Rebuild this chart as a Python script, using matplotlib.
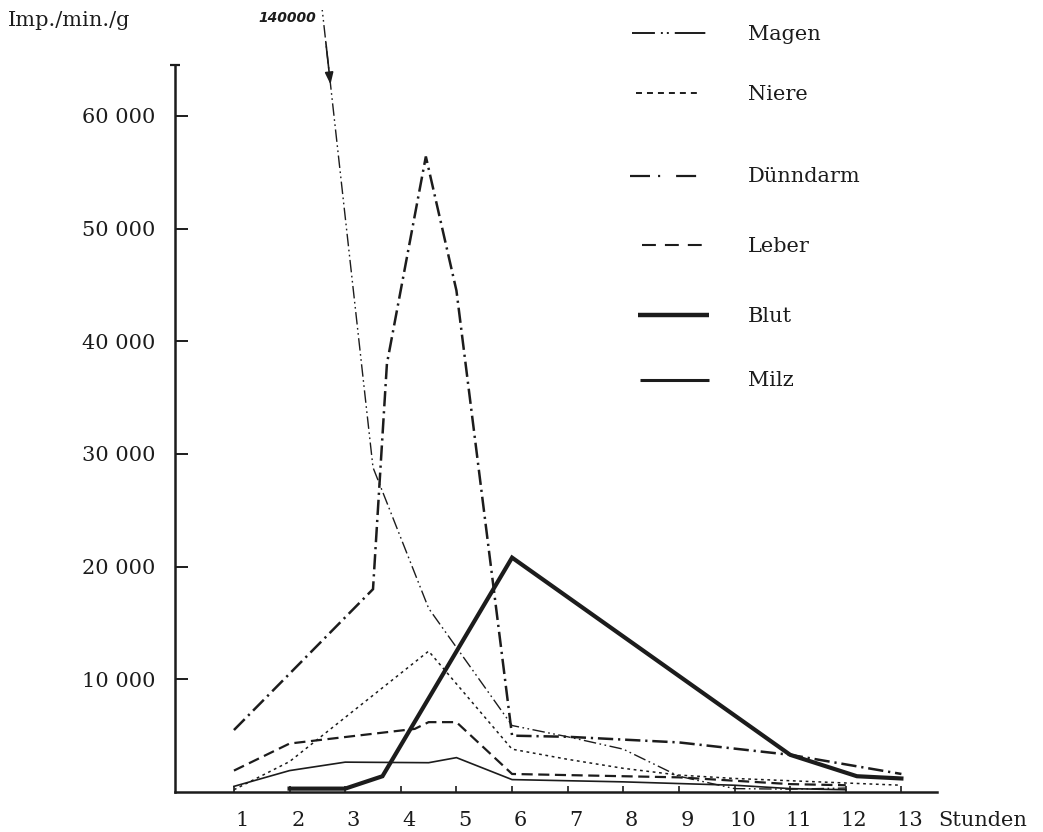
import numpy as np
import matplotlib
matplotlib.use("Agg")
import matplotlib.pyplot as plt
from matplotlib.transforms import ScaledTranslation

plt.rcParams['lines.scale_dashes'] = False
plt.rcParams['font.family'] = ['DejaVu Serif']

# ---------------- data (hours, Imp./min./g) ----------------
magen_h = [1, 3.5, 4.5, 6, 7, 8, 9, 10, 11, 12]
magen_v = [140000, 28800, 16300, 5900, 4900, 3800, 1400, 300, 250, 350]

niere_h = [1, 2, 4.5, 6, 7, 8, 9, 10, 11, 12, 13]
niere_v = [200, 2700, 12500, 3800, 2900, 2100, 1500, 1200, 1000, 800, 600]

duenndarm_h = [1, 2, 3.5, 3.75, 4.45, 5, 6, 7, 9, 11, 13]
duenndarm_v = [5500, 10500, 18000, 38000, 56400, 44500, 5000, 4900, 4400, 3300, 1600]

leber_h = [1, 2, 4.25, 4.5, 5, 6, 8, 9, 10, 11, 12]
leber_v = [1900, 4300, 5600, 6200, 6200, 1600, 1400, 1300, 1000, 700, 600]

blut_h = [2, 3, 3.67, 6, 11, 12.2, 13]
blut_v = [300, 300, 1400, 20800, 3300, 1400, 1200]

milz_h = [1, 2, 3, 4.5, 5, 6, 8, 10, 11, 12]
milz_v = [500, 1900, 2650, 2600, 3050, 1100, 900, 600, 300, 200]

hours = list(range(1, 14))
y_ticks = [10000, 20000, 30000, 40000, 50000, 60000]
y_labels = ["10 000", "20 000", "30 000", "40 000", "50 000", "60 000"]

names = ["Magen", "Niere", "Dünndarm", "Leber", "Blut", "Milz"]

# ---------------- styles ----------------
ink = "#1c1c1c"
styles = {
    "Magen":    dict(lw=1.0, dashes=(9, 2.5, 1.2, 2.5, 1.2, 2.5)),
    "Niere":    dict(lw=1.1, dashes=(2.0, 2.6)),
    "Dünndarm": dict(lw=1.8, dashes=(11, 3.5, 1.6, 3.5)),
    "Leber":    dict(lw=1.6, dashes=(8, 4)),
    "Blut":     dict(lw=3.0, dashes=None),
    "Milz":     dict(lw=1.2, dashes=None),
}
legend_dashes = {
    "Magen": (5.5, (22, 4.3, 1.4, 2.9, 1.4, 4.3)),
    "Niere": (0, (4.3, 3.6)),
    "Dünndarm": (0, (14.4, 5.8, 1.5, 11.5)),
    "Leber": (0, (10, 6.5)),
    "Blut": None,
    "Milz": None,
}
legend_lw = {"Magen": 1.4, "Niere": 1.4, "Dünndarm": 1.6, "Leber": 1.5,
             "Blut": 3.2, "Milz": 2.2}
series = {
    "Magen": (magen_h, magen_v),
    "Niere": (niere_h, niere_v),
    "Dünndarm": (duenndarm_h, duenndarm_v),
    "Leber": (leber_h, leber_v),
    "Blut": (blut_h, blut_v),
    "Milz": (milz_h, milz_v),
}

W, H = 1043, 832
fig = plt.figure(figsize=(W / 100, H / 100), dpi=100)
fig.patch.set_facecolor("white")

ax = fig.add_axes([175 / W, 1 - 792 / H, (937 - 175) / W, (792 - 10) / H])
ax.set_xlim(-0.06, 13.64)
ax.set_ylim(0, 69400)
ax.patch.set_alpha(0)

for name in names:
    h, v = series[name]
    st = styles[name]
    line, = ax.plot(h, v, color=ink, lw=st["lw"], solid_joinstyle="miter",
                    dash_joinstyle="miter")
    if st["dashes"] is not None:
        line.set_dashes(st["dashes"])

# spines
for s in ["top", "right"]:
    ax.spines[s].set_visible(False)
ax.spines["left"].set_bounds(0, 64500)
ax.spines["left"].set_linewidth(1.8)
ax.spines["bottom"].set_linewidth(1.8)
ax.spines["left"].set_color(ink)
ax.spines["bottom"].set_color(ink)

tfont = 15
ax.set_yticks(y_ticks)
ax.set_yticklabels(y_labels, fontsize=tfont, color=ink)
ax.tick_params(axis="y", direction="in", length=9, width=1.4, pad=14, colors=ink)
ax.set_yticks([64500], minor=True)
ax.tick_params(axis="y", which="minor", direction="inout", length=7, width=1.6, colors=ink)

ax.set_xticks(hours)
ax.set_xticklabels([str(h) for h in hours], fontsize=tfont, color=ink)
ax.tick_params(axis="x", direction="in", length=4, width=1.2, pad=14, colors=ink)
off = ScaledTranslation(6 / 72, 0, fig.dpi_scale_trans)
for lab in ax.get_xticklabels():
    lab.set_transform(lab.get_transform() + off)

# arrow on the Magen line pointing downward (off-scale value)
v_tail, v_tip = 66500, 62800
x_tail = np.interp(v_tail, [magen_v[1], magen_v[0]], [magen_h[1], magen_h[0]])
x_tip = np.interp(v_tip, [magen_v[1], magen_v[0]], [magen_h[1], magen_h[0]])
ax.annotate("", xy=(x_tip, v_tip), xytext=(x_tail, v_tail),
            arrowprops=dict(arrowstyle="-|>,head_length=0.7,head_width=0.25",
                            color=ink, lw=1.2, shrinkA=0, shrinkB=0))

# ---------------- overlay for texts / legend (pixel coords) ----------------
ov = fig.add_axes([0, 0, 1, 1])
ov.set_xlim(0, W)
ov.set_ylim(H, 0)
ov.axis("off")
ov.patch.set_alpha(0)

ov.text(8, 21, "Imp./min./g", fontsize=tfont, color=ink, va="center", ha="left")
ov.text(287, 18, "140000", fontsize=10, color=ink, va="center", ha="center",
        family="DejaVu Sans", fontweight="bold", fontstyle="italic")
ov.text(938, 821, "Stunden", fontsize=tfont, color=ink, va="center", ha="left")

leg_rows = {
    "Magen": (33, 632, 706),
    "Niere": (93, 636, 700),
    "Dünndarm": (176, 630, 700),
    "Leber": (245, 642, 702),
    "Blut": (315, 638, 709),
    "Milz": (380, 640, 709),
}
for name in names:
    y, x0, x1 = leg_rows[name]
    ln, = ov.plot([x0, x1], [y, y], color=ink, lw=legend_lw[name],
                  solid_capstyle="butt", dash_capstyle="butt")
    if legend_dashes[name] is not None:
        ln.set_linestyle(legend_dashes[name])
    ov.text(748, y + 1, name, fontsize=tfont, color=ink, va="center", ha="left")

fig.savefig("out.png", dpi=100, facecolor="white")
